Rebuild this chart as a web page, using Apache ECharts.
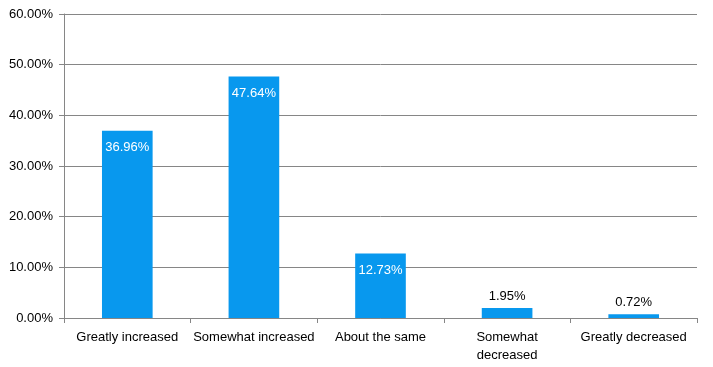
<!DOCTYPE html>
<html><head><meta charset="utf-8">
<script src="https://cdn.jsdelivr.net/npm/echarts@6/dist/echarts.min.js"></script>
<style>html,body{margin:0;padding:0;background:#fff}#c{width:713px;height:367px}</style>
</head><body><div id="c"></div>
<script>
const categories = ['Greatly increased','Somewhat increased','About the same','Somewhat decreased','Greatly decreased'];
const values = [36.96, 47.64, 12.73, 1.95, 0.72];
const insideLabel = [true, true, true, false, false];
const FONT = 'Liberation Sans';
const chart = echarts.init(document.getElementById('c'));
chart.setOption({
  animation:false,
  grid:{left:64,right:16,top:14,bottom:49,containLabel:false},
  xAxis:{type:'category',data:categories,
    axisLine:{lineStyle:{color:'#868686'}},
    axisTick:{show:true,length:5,interval:0,lineStyle:{color:'#868686'}},
    axisLabel:{color:'#000',fontFamily:FONT,fontSize:13,margin:10,lineHeight:18,interval:0,hideOverlap:false,
      formatter:v=>v==='Somewhat decreased'?'Somewhat\ndecreased':v}},
  yAxis:{type:'value',min:0,max:60,interval:10,
    axisLine:{show:true,lineStyle:{color:'#868686'}},
    axisTick:{show:true,length:5,lineStyle:{color:'#868686'}},
    splitLine:{lineStyle:{color:'#868686'}},
    axisLabel:{color:'#000',fontFamily:FONT,fontSize:13,margin:11,formatter:v=>v.toFixed(2)+'%'}},
  series:[{type:'bar',barWidth:'40%',
    data:values.map((v,i)=>({value:v,label:insideLabel[i]?
      {position:'insideTop',distance:10,color:'#fff'}:
      {position:'top',distance:5,color:'#000'}})),
    itemStyle:{color:'#0898EE'},
    label:{show:true,fontFamily:FONT,fontSize:13,formatter:p=>p.value.toFixed(2)+'%'}}]
});
</script></body></html>
